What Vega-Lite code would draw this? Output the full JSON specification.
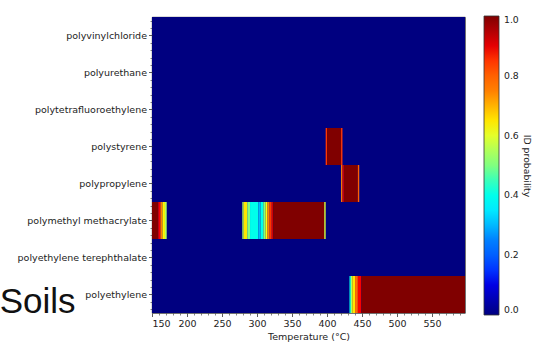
{
  "$schema": "https://vega.github.io/schema/vega-lite/v6.json",
  "width": 313,
  "height": 296,
  "autosize": {"type": "none"},
  "padding": {"left": 152, "top": 17, "right": 68, "bottom": 34},
  "background": "white",
  "config": {
    "view": {"stroke": "#222", "strokeWidth": 0.8},
    "font": "DejaVu Sans",
    "axis": {"labelFont": "DejaVu Sans", "labelFontSize": 9.5, "labelColor": "#222", "tickColor": "#333", "tickSize": 3.5, "tickWidth": 0.8, "domain": false, "grid": false, "titleFont": "DejaVu Sans", "titleFontSize": 9.5, "titleFontWeight": "normal", "titleColor": "#222"}
  },
  "data": {"values": [
    {"polymer": "polyvinylchloride", "t0": 150, "t1": 597, "p": 0},
    {"polymer": "polyurethane", "t0": 150, "t1": 597, "p": 0},
    {"polymer": "polytetrafluoroethylene", "t0": 150, "t1": 597, "p": 0},
    {"polymer": "polystyrene", "t0": 150, "t1": 597, "p": 0},
    {"polymer": "polypropylene", "t0": 150, "t1": 597, "p": 0},
    {"polymer": "polymethyl methacrylate", "t0": 150, "t1": 597, "p": 0},
    {"polymer": "polyethylene terephthalate", "t0": 150, "t1": 597, "p": 0},
    {"polymer": "polyethylene", "t0": 150, "t1": 597, "p": 0},
    {"polymer": "polymethyl methacrylate", "t0": 150, "t1": 159, "p": 1.0},
    {"polymer": "polymethyl methacrylate", "t0": 159, "t1": 162, "p": 0.88},
    {"polymer": "polymethyl methacrylate", "t0": 162, "t1": 165, "p": 0.75},
    {"polymer": "polymethyl methacrylate", "t0": 165, "t1": 168.5, "p": 0.63},
    {"polymer": "polymethyl methacrylate", "t0": 168.5, "t1": 171, "p": 0.55},
    {"polymer": "polymethyl methacrylate", "t0": 279, "t1": 281, "p": 0.55},
    {"polymer": "polymethyl methacrylate", "t0": 281, "t1": 286, "p": 0.65},
    {"polymer": "polymethyl methacrylate", "t0": 286, "t1": 290, "p": 0.5},
    {"polymer": "polymethyl methacrylate", "t0": 290, "t1": 302, "p": 0.4},
    {"polymer": "polymethyl methacrylate", "t0": 302, "t1": 305, "p": 0.3},
    {"polymer": "polymethyl methacrylate", "t0": 305, "t1": 309, "p": 0.4},
    {"polymer": "polymethyl methacrylate", "t0": 309, "t1": 312, "p": 0.5},
    {"polymer": "polymethyl methacrylate", "t0": 312, "t1": 315, "p": 0.62},
    {"polymer": "polymethyl methacrylate", "t0": 315, "t1": 318, "p": 0.75},
    {"polymer": "polymethyl methacrylate", "t0": 318, "t1": 321, "p": 0.85},
    {"polymer": "polymethyl methacrylate", "t0": 321, "t1": 323, "p": 0.92},
    {"polymer": "polymethyl methacrylate", "t0": 323, "t1": 396, "p": 1.0},
    {"polymer": "polymethyl methacrylate", "t0": 396, "t1": 398, "p": 0.6},
    {"polymer": "polystyrene", "t0": 398, "t1": 400, "p": 0.85},
    {"polymer": "polystyrene", "t0": 400, "t1": 420, "p": 1.0},
    {"polymer": "polystyrene", "t0": 420, "t1": 422, "p": 0.85},
    {"polymer": "polypropylene", "t0": 420, "t1": 422, "p": 0.75},
    {"polymer": "polypropylene", "t0": 422, "t1": 424, "p": 0.9},
    {"polymer": "polypropylene", "t0": 424, "t1": 444, "p": 1.0},
    {"polymer": "polypropylene", "t0": 444, "t1": 446, "p": 0.8},
    {"polymer": "polyethylene", "t0": 432, "t1": 434, "p": 0.4},
    {"polymer": "polyethylene", "t0": 434, "t1": 436, "p": 0.55},
    {"polymer": "polyethylene", "t0": 436, "t1": 440, "p": 0.65},
    {"polymer": "polyethylene", "t0": 440, "t1": 444, "p": 0.78},
    {"polymer": "polyethylene", "t0": 444, "t1": 449, "p": 0.88},
    {"polymer": "polyethylene", "t0": 449, "t1": 597, "p": 1.0}
  ]},
  "resolve": {"axis": {"x": "independent", "y": "independent"}, "scale": {"y": "independent"}},
  "layer": [
    {
      "mark": {"type": "rect", "strokeWidth": 0},
      "encoding": {
        "x": {"field": "t0", "type": "quantitative",
          "scale": {"domain": [150, 597], "nice": false, "zero": false},
          "axis": {"orient": "bottom", "values": [150, 200, 250, 300, 350, 400, 450, 500, 550], "format": "d", "title": "Temperature (°C)", "labelPadding": 2, "titlePadding": 3}},
        "x2": {"field": "t1"},
        "y": {"field": "polymer", "type": "nominal",
          "sort": ["polyvinylchloride", "polyurethane", "polytetrafluoroethylene", "polystyrene", "polypropylene", "polymethyl methacrylate", "polyethylene terephthalate", "polyethylene"],
          "scale": {"paddingInner": 0, "paddingOuter": 0},
          "axis": {"orient": "left", "title": "Soils", "titleAngle": 0, "titleX": -77, "titleY": 295, "titleAlign": "right", "titleBaseline": "alphabetic", "titleFont": "Liberation Sans", "titleFontSize": 35, "titleColor": "#111", "labelPadding": 2}},
        "color": {"field": "p", "type": "quantitative",
          "scale": {"domain": [0, 0.125, 0.25, 0.375, 0.5, 0.625, 0.75, 0.875, 1],
            "range": ["#000080", "#0000ff", "#0080ff", "#00ffff", "#80ff80", "#ffff00", "#ff8000", "#ff0000", "#800000"]},
          "legend": {"orient": "none", "legendX": 332, "legendY": -1, "direction": "vertical", "gradientLength": 299, "gradientThickness": 15, "gradientStrokeColor": "#333", "gradientStrokeWidth": 0.8, "values": [0, 0.2, 0.4, 0.6, 0.8, 1], "format": ".1f", "labelFont": "DejaVu Sans", "labelFontSize": 9.3, "labelColor": "#222", "labelOffset": 5, "title": "ID probability", "titleOrient": "right", "titleAngle": 270, "titleFont": "DejaVu Sans", "titleFontSize": 9.3, "titleFontWeight": "normal", "titleColor": "#222", "titleAnchor": "middle", "titlePadding": 3}}
      }
    },
    {
      "mark": {"type": "point", "opacity": 0},
      "encoding": {
        "x": {"field": "t0", "type": "quantitative",
          "axis": {"orient": "bottom", "values": [160, 170, 180, 190, 210, 220, 230, 240, 260, 270, 280, 290, 310, 320, 330, 340, 360, 370, 380, 390, 410, 420, 430, 440, 460, 470, 480, 490, 510, 520, 530, 540, 560, 570, 580, 590], "labels": false, "tickSize": 2, "tickWidth": 0.6, "title": null}},
        "y": {"datum": 0, "type": "quantitative",
          "scale": {"domain": [0, 8], "nice": false, "zero": false},
          "axis": {"orient": "left", "values": [0.1, 0.3, 0.7, 0.9, 1.1, 1.3, 1.7, 1.9, 2.1, 2.3, 2.7, 2.9, 3.1, 3.3, 3.7, 3.9, 4.1, 4.3, 4.7, 4.9, 5.1, 5.3, 5.7, 5.9, 6.1, 6.3, 6.7, 6.9, 7.1, 7.3, 7.7, 7.9], "labels": false, "tickSize": 2, "tickWidth": 0.6, "title": null}}
      }
    }
  ]
}
